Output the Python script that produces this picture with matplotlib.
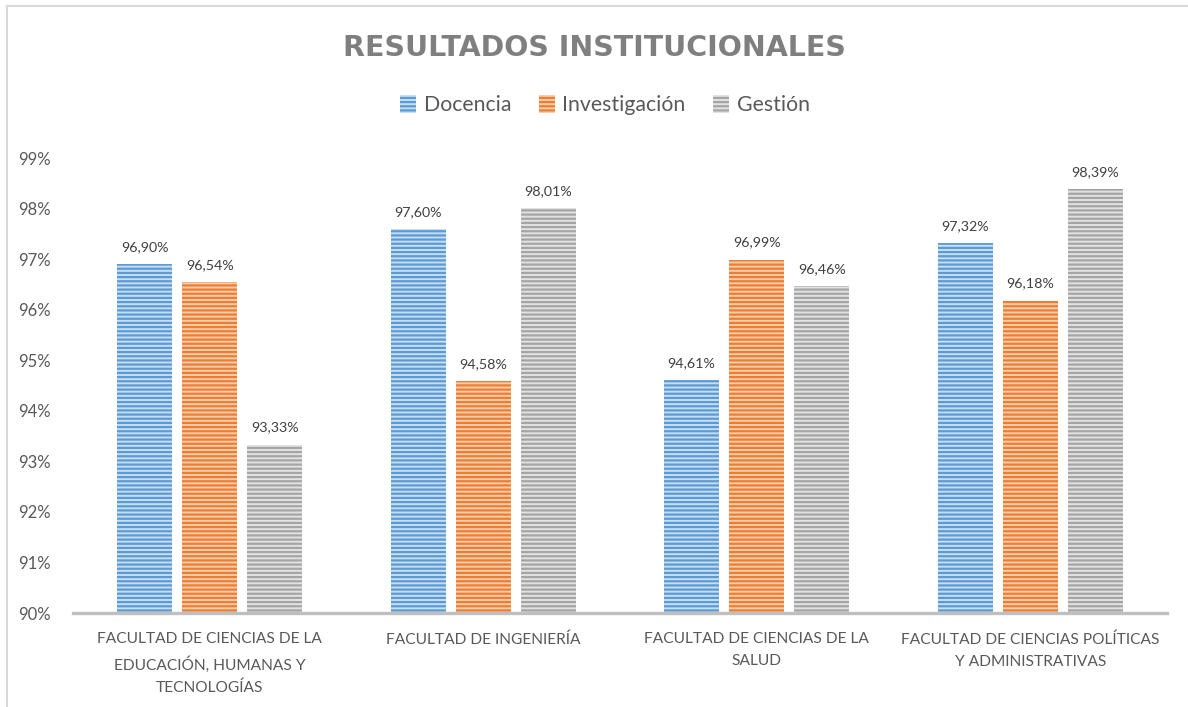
import numpy as np
import matplotlib.pyplot as plt
from matplotlib.lines import Line2D

categories = [
    'FACULTAD DE CIENCIAS DE LA\nEDUCACIÓN, HUMANAS Y\nTECNOLOGÍAS',
    'FACULTAD DE INGENIERÍA',
    'FACULTAD DE CIENCIAS DE LA\nSALUD',
    'FACULTAD DE CIENCIAS POLÍTICAS\nY ADMINISTRATIVAS',
]
series_names = ['Docencia', 'Investigación', 'Gestión']
docencia = [96.90, 97.60, 94.61, 97.32]
investigacion = [96.54, 94.58, 96.99, 96.18]
gestion = [93.33, 98.01, 96.46, 98.39]
y_ticks = [90, 91, 92, 93, 94, 95, 96, 97, 98, 99]

main_colors = ['#5B9BD5', '#ED7D31', '#A5A5A5']
light_colors = ['#C9DDF2', '#F9CDAE', '#E2E2E2']

plt.rcParams['font.family'] = ['Lato', 'DejaVu Sans']
plt.rcParams['hatch.linewidth'] = 1.6

fig = plt.figure(figsize=(11.88, 7.07), dpi=100)
ax = fig.add_axes([73 / 1188, 1 - 613 / 707, (1167 - 73) / 1188, (613 - 158) / 707])

x = np.arange(len(categories))
width = 0.2
offset = 0.238
all_series = [docencia, investigacion, gestion]

for i, vals in enumerate(all_series):
    pos = x + (i - 1) * offset
    heights = [v - 90 for v in vals]
    ax.bar(pos, heights, width, bottom=90, color=light_colors[i], edgecolor=main_colors[i],
           hatch='----', linewidth=0, label=series_names[i], zorder=2)
    for p, v in zip(pos, vals):
        ax.annotate(f'{v:.2f}%'.replace('.', ','), (p, v), xytext=(0, 8), textcoords='offset points',
                    ha='center', va='bottom', fontsize=10.3, color='#404040')

ax.set_xlim(-0.5, 3.5)
ax.set_ylim(90, 99)
ax.set_yticks(y_ticks)
ax.set_yticklabels([f'{t}%' for t in y_ticks])
ax.set_xticks(x)
ax.set_xticklabels(categories, linespacing=1.7)
ax.tick_params(axis='y', length=0, pad=16, labelsize=12, labelcolor='#595959')
ax.tick_params(axis='x', length=0, pad=14, labelsize=11.2, labelcolor='#595959')

for s in ['top', 'right', 'left']:
    ax.spines[s].set_visible(False)
ax.spines['bottom'].set_color('#BFBFBF')
ax.spines['bottom'].set_linewidth(2.4)
ax.spines['bottom'].set_zorder(3)

fig.text(594 / 1188, 1 - 48 / 707, 'RESULTADOS INSTITUCIONALES', ha='center', va='center',
         fontsize=20.5, fontweight='bold', color='#7F7F7F', family=['DejaVu Sans'])

fig.legend(loc='center', bbox_to_anchor=(605 / 1188, 1 - 105 / 707), ncol=3, frameon=False,
           fontsize=15.3, handlelength=0.75, handleheight=0.9, handletextpad=0.35,
           columnspacing=1.3, labelcolor='#595959')

# chart border (left and top edges visible)
fig.add_artist(Line2D([6.5 / 1188, 6.5 / 1188], [0, 1 - 5.5 / 707], transform=fig.transFigure,
                      color='#D9D9D9', linewidth=1.5))
fig.add_artist(Line2D([6.5 / 1188, 1], [1 - 5.5 / 707, 1 - 5.5 / 707], transform=fig.transFigure,
                      color='#D9D9D9', linewidth=1.5))

fig.savefig('out.png', dpi=100)
